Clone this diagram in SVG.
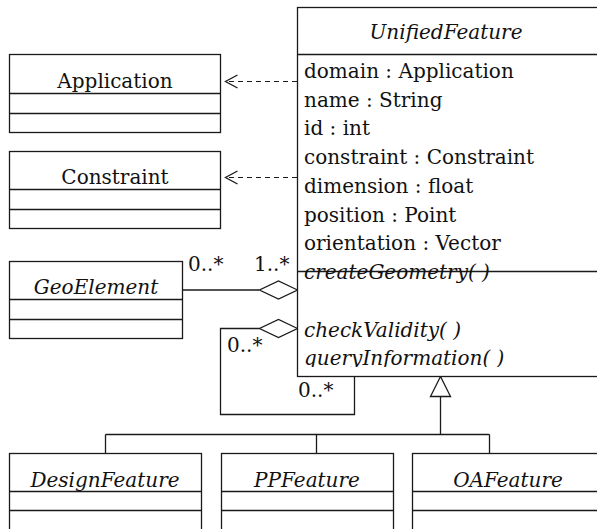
<svg xmlns="http://www.w3.org/2000/svg" width="597" height="529" viewBox="0 0 597 529">
<style>
.box{fill:#fff;stroke:#1a1a1a;stroke-width:1.3}
.ln{fill:none;stroke:#1a1a1a;stroke-width:1.3}
.dash{fill:none;stroke:#1a1a1a;stroke-width:1.2;stroke-dasharray:5 4}
.t{font-family:"DejaVu Serif","Liberation Serif",serif;font-size:20px;fill:#111}
.i{font-style:italic}
.c{text-anchor:middle}
.hd{fill:#fff;stroke:#1a1a1a;stroke-width:1.3}
</style>
<defs>
<clipPath id="opclip"><rect x="297" y="260" width="310" height="107"/></clipPath>
</defs>
<rect width="597" height="529" fill="#fff"/>

<g id="connectors">
<line class="dash" x1="297" y1="81.5" x2="226" y2="81.5"/>
<polyline class="ln" points="237.5,75 225.5,81.5 237.5,88"/>
<line class="dash" x1="297" y1="177.5" x2="226" y2="177.5"/>
<polyline class="ln" points="237.5,171 225.5,177.5 237.5,184"/>
<line class="ln" x1="182" y1="290" x2="259" y2="290"/>
<polygon class="hd" points="297.5,290 278.5,281 259.5,290 278.5,299"/>
<polyline class="ln" points="259.5,328.5 220.5,328.5 220.5,414.5 354.5,414.5 354.5,376.5"/>
<polygon class="hd" points="297.5,328.5 278.5,319.5 259.5,328.5 278.5,337.5"/>
<polygon class="hd" points="440.5,376.5 430.5,396.5 450.5,396.5"/>
<line class="ln" x1="440.5" y1="396.5" x2="440.5" y2="434.5"/>
<line class="ln" x1="105.5" y1="434.5" x2="489.5" y2="434.5"/>
<line class="ln" x1="105.5" y1="434.5" x2="105.5" y2="453.5"/>
<line class="ln" x1="316.5" y1="434.5" x2="316.5" y2="453.5"/>
<line class="ln" x1="489.5" y1="434.5" x2="489.5" y2="453.5"/>
<text class="t" x="188" y="271">0..*</text>
<text class="t" x="254" y="271">1..*</text>
<text class="t" x="227" y="352">0..*</text>
<text class="t" x="298" y="397">0..*</text>
</g>

<g id="UnifiedFeature">
<rect class="box" x="297.5" y="7.5" width="320" height="369"/>
<line class="ln" x1="297.5" y1="54.5" x2="600" y2="54.5"/>
<line class="ln" x1="297.5" y1="271.5" x2="600" y2="271.5"/>
<text class="t i c" x="446" y="39">UnifiedFeature</text>
<text class="t" x="304" y="78">domain : Application</text>
<text class="t" x="304" y="106.7">name : String</text>
<text class="t" x="304" y="135.4">id : int</text>
<text class="t" x="304" y="164.1">constraint : Constraint</text>
<text class="t" x="304" y="192.8">dimension : float</text>
<text class="t" x="304" y="221.5">position : Point</text>
<text class="t" x="304" y="250">orientation : Vector</text>
<g clip-path="url(#opclip)">
<text class="t i" x="304" y="279">createGeometry( )</text>
<text class="t i" x="304" y="336.5">checkValidity( )</text>
<text class="t i" x="304" y="365">queryInformation( )</text>
</g>
</g>

<g id="Application">
<rect class="box" x="9.5" y="54.5" width="211" height="78"/>
<line class="ln" x1="9.5" y1="93.5" x2="220.5" y2="93.5"/>
<line class="ln" x1="9.5" y1="113.5" x2="220.5" y2="113.5"/>
<text class="t c" x="115" y="88">Application</text>
</g>

<g id="Constraint">
<rect class="box" x="9.5" y="151.5" width="211" height="77"/>
<line class="ln" x1="9.5" y1="189.5" x2="220.5" y2="189.5"/>
<line class="ln" x1="9.5" y1="209.5" x2="220.5" y2="209.5"/>
<text class="t c" x="115" y="184">Constraint</text>
</g>

<g id="GeoElement">
<rect class="box" x="9.5" y="261.5" width="173" height="77"/>
<line class="ln" x1="9.5" y1="299.5" x2="182.5" y2="299.5"/>
<line class="ln" x1="9.5" y1="319.5" x2="182.5" y2="319.5"/>
<text class="t i c" x="96" y="294">GeoElement</text>
</g>

<g id="DesignFeature">
<rect class="box" x="9.5" y="453.5" width="192" height="100"/>
<line class="ln" x1="9.5" y1="491.5" x2="201.5" y2="491.5"/>
<line class="ln" x1="9.5" y1="510.5" x2="201.5" y2="510.5"/>
<text class="t i c" x="105" y="487">DesignFeature</text>
</g>

<g id="PPFeature">
<rect class="box" x="221.5" y="453.5" width="172" height="100"/>
<line class="ln" x1="221.5" y1="491.5" x2="393.5" y2="491.5"/>
<line class="ln" x1="221.5" y1="510.5" x2="393.5" y2="510.5"/>
<text class="t i c" x="307" y="487">PPFeature</text>
</g>

<g id="OAFeature">
<rect class="box" x="412.5" y="453.5" width="200" height="100"/>
<line class="ln" x1="412.5" y1="491.5" x2="600" y2="491.5"/>
<line class="ln" x1="412.5" y1="510.5" x2="600" y2="510.5"/>
<text class="t i c" x="508" y="487">OAFeature</text>
</g>
</svg>
